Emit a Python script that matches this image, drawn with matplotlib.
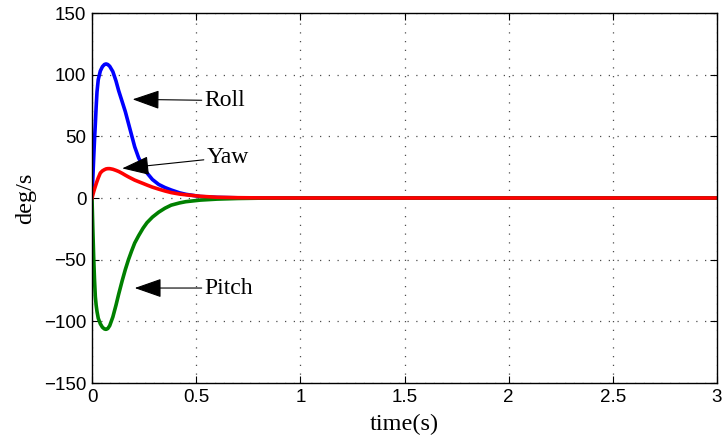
import matplotlib
matplotlib.use("Agg")
import matplotlib.pyplot as plt

# values
t = [0, 0.004, 0.008, 0.012, 0.016, 0.02, 0.024, 0.03, 0.04, 0.05, 0.06,
     0.068, 0.076, 0.085, 0.1, 0.115, 0.128, 0.145, 0.16, 0.175, 0.19,
     0.205, 0.224, 0.245, 0.264, 0.29, 0.32, 0.35, 0.38, 0.42, 0.45,
     0.52, 0.6, 0.7, 0.8, 1.0, 3.0]
roll = [0, 16, 32, 47, 60, 74, 86, 96, 103, 106.5, 108.3,
        108.7, 108.2, 106.8, 102.5, 95, 87, 78, 70, 60.5, 51,
        41.5, 32.5, 25.5, 20.3, 15, 11, 8.5, 6.5, 4.2, 3,
        1.2, 0.5, 0.15, 0.05, 0, 0]
yaw = [0, 2.5, 5, 7.3, 9.4, 11.5, 13.5, 16.3, 20.3, 22, 23,
       23.6, 23.8, 23.8, 23.3, 22.4, 21.5, 20, 18.5, 17.1, 15.8,
       14.5, 13.2, 11.8, 10.5, 8.8, 7.2, 5.7, 4.4, 3.2, 2.6,
       1.4, 0.6, 0.25, 0.1, 0, 0]
pitch = [0, -25, -48, -66, -80, -87, -92, -97.5, -102, -104.8, -106.2,
         -106.5, -105.8, -103.5, -96.5, -87, -78, -67, -58, -50, -43,
         -36.5, -30.5, -24.5, -20, -15.5, -11.5, -8.3, -5.8, -4, -3,
         -1.7, -0.9, -0.4, -0.15, 0, 0]

labels = ["Roll", "Yaw", "Pitch"]
text_pos = [(0.54, 79), (0.55, 33), (0.54, -73)]
tip_pos = [(0.195, 80), (0.145, 24), (0.205, -73)]

fig = plt.figure(figsize=(7.24, 4.41), dpi=100)
ax = fig.add_axes([92/724, 58/441, 625/724, 370/441])

ax.plot(t, roll, color="#0000ff", lw=2.6)
ax.plot(t, pitch, color="#008000", lw=2.6)
ax.plot(t, yaw, color="#ff0000", lw=2.6)

for lab, tp, hp in zip(labels, text_pos, tip_pos):
    ax.annotate(lab, xy=hp, xytext=tp, fontsize=17, family="Liberation Serif",
                va="center", ha="left",
                arrowprops=dict(arrowstyle="-|>,head_length=1.0,head_width=0.35",
                                color="black", lw=0.8, shrinkA=0, shrinkB=0))

ax.set_xlim(0, 3)
ax.set_ylim(-150, 150)
ax.set_xticks([0, 0.5, 1, 1.5, 2, 2.5, 3])
ax.set_xticklabels(["0", "0.5", "1", "1.5", "2", "2.5", "3"])
ax.set_yticks(range(-150, 151, 50))
ax.set_yticklabels(["\u2212150", "\u2212100", "\u221250", "0", "50", "100", "150"])
ax.grid(True, ls=(0, (1, 6)), color="0.3", lw=0.9)
ax.tick_params(direction="in", top=True, right=True, labelsize=13.5, length=5, pad=4)
for lbl in ax.get_xticklabels() + ax.get_yticklabels():
    lbl.set_family("Liberation Sans")
for s in ax.spines.values():
    s.set_linewidth(1.0)

ax.set_xlabel("time(s)", fontsize=17.5, family="Liberation Serif", labelpad=6)
ax.set_ylabel("deg/s", fontsize=17.5, family="Liberation Serif", labelpad=6)

fig.savefig("out.png", dpi=100)
